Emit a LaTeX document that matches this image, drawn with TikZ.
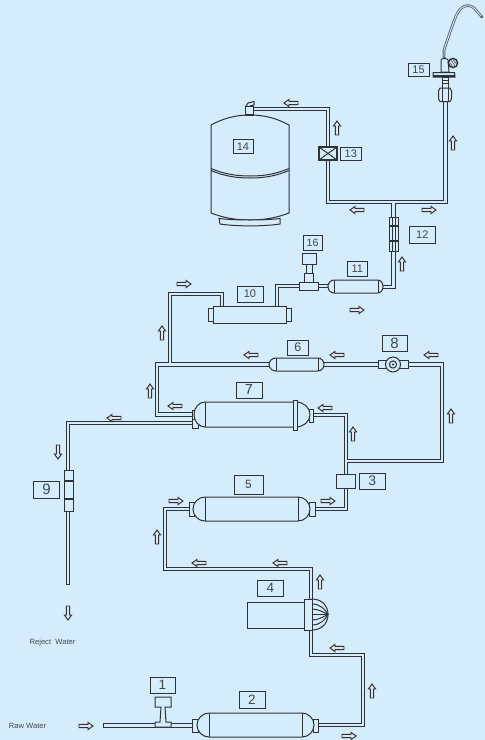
\documentclass[tikz,border=0pt]{standalone}
\usepackage{fontspec}
\setmainfont{Liberation Sans}
\definecolor{bgc}{HTML}{D4ECFB}
\definecolor{ink}{HTML}{2E3236}
\definecolor{txt}{HTML}{41474C}
\tikzset{
  part/.style={draw=ink,line width=1pt,fill=bgc},
  thin part/.style={draw=ink,line width=1pt},
  tag/.style={draw=ink,line width=0.95pt,fill=bgc,inner sep=0pt,text=txt},
  caption/.style={inner sep=0pt,text=txt,font=\fontsize{7.6}{9}\selectfont},
  flow/.pic={\draw[draw=ink,line width=0.95pt,fill=bgc!60!gray!40!white]
    (-7,-1.7)--(2,-1.7)--(2,-3.6)--(7,0)--(2,3.6)--(2,1.7)--(-7,1.7)--cycle;},
}
% tag: name, x1, y1, x2, y2, font size, text
\newcommand{\tagbox}[7]{\pgfmathsetmacro{\tw}{#4-#2}\pgfmathsetmacro{\th}{#5-#3}%
  \node[tag,minimum width=\tw pt,minimum height=\th pt,font=\fontsize{#6}{#6}\selectfont] (#1) at ({(#2+#4)/2},{(#3+#5)/2}) {#7};}
% vessel: left, line1, line2, right, top, bottom
\newcommand{\vessel}[6]{\pgfmathsetmacro{\vm}{(#5+#6)/2}%
  \pgfmathsetmacro{\vk}{0.55*(#6-#5)/2}%
  \pgfmathsetmacro{\vrc}{#3+0.55*(#4-#3)}\pgfmathsetmacro{\vlc}{#2-0.55*(#2-#1)}%
  \draw[part] (#2,#5) -- (#3,#5) .. controls (\vrc,#5) and (#4,\vm-\vk) .. (#4,\vm)
    .. controls (#4,\vm+\vk) and (\vrc,#6) .. (#3,#6) -- (#2,#6)
    .. controls (\vlc,#6) and (#1,\vm+\vk) .. (#1,\vm)
    .. controls (#1,\vm-\vk) and (\vlc,#5) .. (#2,#5) -- cycle;
  \draw[thin part] (#2,#5) -- (#2,#6) (#3,#5) -- (#3,#6);}
\newcommand{\pipes}[2]{%
 \draw[draw=#1,line width=#2]
  (p14) -- (b1) -- (p13t) (p13b) -- (b2) -- (b3) -- (p15)
  (j12) -- (p12t) (p12b) -- (b4) -- (p11r)
  (p11l) -- (pTr) (pTl) -- (b5) -- (p10r)
  (p10l) -- (b6) -- (b7) -- (j6)
  (p6l) -- (b8) -- (b9) -- (p7l)
  (p6r) -- (p8l) (p8r) -- (b10) -- (b11) -- (j3)
  (p3t) -- (b12) -- (p7r)
  (p3b) -- (b13) -- (p5r)
  (p5l) -- (b14) -- (b15) -- (b16) -- (p4t)
  (p4b) -- (b17) -- (b18) -- (b19) -- (p2r)
  (rawin) -- (p2l)
  (p7rj) -- (b20) -- (p9t) (p9b) -- (rejout);}
\begin{document}
\begin{tikzpicture}[x=1pt,y=-1pt,line join=miter]
\useasboundingbox[fill=bgc] (0,0) rectangle (485,740);
% ports and bends
\coordinate (p14) at (252,109); \coordinate (b1) at (328,109);
\coordinate (p13t) at (328,147); \coordinate (p13b) at (328,160);
\coordinate (b2) at (328,202); \coordinate (b3) at (445.5,202); \coordinate (p15) at (445.5,100);
\coordinate (j12) at (393.7,202); \coordinate (p12t) at (393.7,217); \coordinate (p12b) at (393.7,251);
\coordinate (b4) at (393.7,287); \coordinate (p11r) at (383,287);
\coordinate (p11l) at (328,286); \coordinate (pTr) at (318,286); \coordinate (pTl) at (299,286);
\coordinate (b5) at (277,286); \coordinate (p10r) at (277,306);
\coordinate (p10l) at (222,306); \coordinate (b6) at (222,294); \coordinate (b7) at (170,294); \coordinate (j6) at (170,364.5);
\coordinate (p6l) at (269,364.5); \coordinate (b8) at (157,364.5); \coordinate (b9) at (157,414.5); \coordinate (p7l) at (193,414.5);
\coordinate (p6r) at (324,364.5); \coordinate (p8l) at (378,364.5); \coordinate (p8r) at (408,364.5);
\coordinate (b10) at (442,364.5); \coordinate (b11) at (442,461); \coordinate (j3) at (346,461);
\coordinate (p3t) at (346,474); \coordinate (b12) at (346,415); \coordinate (p7r) at (313,415);
\coordinate (p3b) at (346,488); \coordinate (b13) at (346,509); \coordinate (p5r) at (315,509);
\coordinate (p5l) at (189,509); \coordinate (b14) at (165,509); \coordinate (b15) at (165,569); \coordinate (b16) at (311,569); \coordinate (p4t) at (311,599);
\coordinate (p4b) at (311,630); \coordinate (b17) at (311,655); \coordinate (b18) at (363,655); \coordinate (b19) at (363,725); \coordinate (p2r) at (318,725);
\coordinate (rawin) at (103,725.5); \coordinate (p2l) at (192,725.5);
\coordinate (p7rj) at (193,423); \coordinate (b20) at (68,423); \coordinate (p9t) at (68,470); \coordinate (p9b) at (68,511); \coordinate (rejout) at (68,584);
% pipes: dark outline, then light bore
\pipes{ink}{4.8pt}
\pipes{bgc}{2.8pt}
\draw[thin part] (65.6,584) -- (70.4,584);
\draw[thin part] (103,723.1) -- (103,727.9);
% tank 14
\draw[part] (211,125) .. controls (224,118) and (236,115) .. (250,115) .. controls (264,115) and (276,118) .. (289,125)
  -- (289,213) .. controls (276,218) and (264,220) .. (250,220) .. controls (236,220) and (224,218) .. (211,213) -- cycle;
\draw[thin part] (211,168.5) .. controls (224,174) and (236,176) .. (250,176) .. controls (264,176) and (276,174) .. (289,168.5);
\draw[thin part] (211,170.5) .. controls (224,176) and (236,178) .. (250,178) .. controls (264,178) and (276,176) .. (289,170.5);
\draw[part] (219,218.5) -- (220,224) .. controls (236,226.5) and (264,226.5) .. (280,224) -- (280,218.5) .. controls (264,220.5) and (236,220.5) .. (219,218.5) -- cycle;
\draw[part] (245,106.5) rectangle (253.5,115);
\fill[ink] (245,113.5) rectangle (253.5,115);
\draw[thin part] (246,106) -- (248,103) -- (254,101.5) -- (254,105) -- (250,106);
% 13
\draw[part,line width=1.3pt] (319,147) rectangle (337,160);
\draw[thin part] (319,147) -- (337,160) (319,160) -- (337,147);
% 12
\draw[part] (389,217) rectangle (398.5,251);
\draw[draw=ink,line width=1.7pt] (389,226) -- (398.5,226) (389,241) -- (398.5,241);
\draw[thin part] (392,217) -- (392,251) (395.5,217) -- (395.5,251);
% 9
\draw[part] (64,470) rectangle (73,511);
\draw[draw=ink,line width=1.7pt] (64,481) -- (73,481) (64,499) -- (73,499);
% 11, T, 16
\vessel{328}{334}{378}{383}{280}{293}
\draw[part] (299,282) rectangle (318,290);
\draw[part] (304,273) rectangle (313,282);
\draw[part] (306,264) rectangle (312,273);
\draw[part] (302.5,253) rectangle (316,264);
% 10
\draw[part] (208,308) rectangle (213,321);
\draw[part] (286,308) rectangle (291,321);
\draw[part] (213,306) rectangle (286,323);
% 6
\vessel{269}{276}{318}{324}{358}{371}
% 8
\draw[part] (378,360) rectangle (408,368);
\draw[part] (393,364.5) circle (7.5);
\draw[part] (393,364.5) circle (3.6);
\fill[ink] (393,364.5) circle (1.1);
% 7
\draw[part] (192,410) rectangle (196,419);
\draw[part] (192,419) rectangle (198,428);
\draw[part] (309,409) rectangle (313.5,422);
\vessel{194}{205}{296}{310}{402}{427}
\draw[part] (293,400) rectangle (297,430);
% 5
\draw[part] (189,502) rectangle (194,516);
\draw[part] (309,502) rectangle (315,516);
\vessel{193}{205}{298}{310}{497}{521}
% 3
\draw[part] (336,474) rectangle (355,488);
% 4
\draw[part] (247,602) rectangle (304,628);
\draw[part] (312,599) .. controls (322,599) and (328,606) .. (328,614.5) .. controls (328,623) and (322,630) .. (312,630) -- cycle;
\draw[thin part] (312,604) .. controls (320,604) and (325,609) .. (328,614.5) .. controls (325,620) and (320,625) .. (312,625);
\draw[thin part] (312,609) .. controls (318,609) and (323,612) .. (328,614.5) .. controls (323,617) and (318,620) .. (312,620);
\draw[thin part] (312,614.5) -- (328,614.5);
\draw[part] (304,599) rectangle (312,630);
% 2
\draw[part] (192,719) rectangle (198,732);
\draw[part] (313,719) rectangle (318.5,732);
\vessel{197}{209}{302}{314}{713}{737}
% 1
\draw[part] (155,727) -- (155,722) -- (160,722) -- (161,707) -- (155,707) -- (155,697) -- (171,697) -- (171,707) -- (165,707) -- (166,722) -- (171,722) -- (171,727) -- cycle;
% faucet 15
\draw[draw=ink!75!bgc,line width=2.6pt,line cap=round] (444,58) -- (444,50) .. controls (448,38) and (452,26) .. (456,16) .. controls (460,6) and (468,3) .. (474,8) .. controls (477,11) and (479,14) .. (482,17);
\draw[draw=bgc,line width=0.9pt] (444,57) -- (444,50) .. controls (448,38) and (452,26) .. (456,16) .. controls (460,6) and (468,3) .. (474,8) .. controls (477,11) and (479,14) .. (481,16);
\draw[part] (441,60) .. controls (441,58) and (448,58) .. (448,60) -- (449,72) -- (441,72) -- cycle;
\draw[part,line width=1.4pt] (453,63) circle (4.6);
\draw[draw=ink!70!bgc,line width=0.8pt] (451,60) -- (455,66) (450,63) -- (453,67) (453,59.5) -- (456.5,64);
\draw[part] (433,72.5) -- (454.5,72.5) -- (455,77) -- (433,77) -- cycle;
\fill[ink] (433,75) rectangle (455,77);
\draw[part] (442,77) rectangle (448.5,88);
\draw[thin part] (442,80) -- (448.5,80) (442,83) -- (448.5,83);
\draw[part] (440,88) -- (450,88) -- (451.5,91) -- (451.5,99) -- (450,101.5) -- (440,101.5) -- (438.5,99) -- (438.5,91) -- cycle;
\draw[thin part] (442,88) -- (442,101.5) (448,88) -- (448,101.5);
% labels
\tagbox{t1}{150}{677}{175}{693}{13.5}{1}
\tagbox{t2}{239}{691}{265}{708}{13.5}{2}
\tagbox{t3}{359.5}{473}{385}{489}{14}{3}
\tagbox{t4}{257.5}{580}{283.5}{596}{13.5}{4}
\tagbox{t5}{234}{475}{263}{494}{12}{5}
\tagbox{t6}{287.5}{340}{308}{355}{12.5}{6}
\tagbox{t7}{236}{382}{262}{398}{14.5}{7}
\tagbox{t8}{382}{335}{407}{351}{15}{8}
\tagbox{t9}{33.5}{481}{59.5}{498}{15}{9}
\tagbox{t10}{237}{286}{263}{302}{11}{10}
\tagbox{t11}{347}{261}{367.5}{276}{11}{11}
\tagbox{t12}{409.5}{226}{435}{243}{11}{12}
\tagbox{t13}{340.5}{147}{361}{160.5}{11}{13}
\tagbox{t14}{233}{139.5}{253}{153}{11}{14}
\tagbox{t15}{408}{63}{429}{76.5}{11}{15}
\tagbox{t16}{303}{235}{322}{250}{10.5}{16}
\node[caption] (raw) at (27.5,726) {Raw Water};
\node[caption] (rej) at (52.5,643) {Reject\ \ Water};
% flow arrows
\foreach \x/\y in {429/210,357/310,184/284,176/501,328/501,349/736,86/726}
  \pic at (\x,\y) {flow};
\foreach \x/\y in {291/103,357/210,251/355,337/355,431/355,175/406,325/408,199/563,280/563,337/648,114/418}
  \pic[rotate=180] at (\x,\y) {flow};
\foreach \x/\y in {337/128,453/143,402/264,162/333,451/416,150/391,353/434,157/537,320/582,372/691}
  \pic[rotate=90] at (\x,\y) {flow};
\foreach \x/\y in {68/613,58/452}
  \pic[rotate=-90] at (\x,\y) {flow};
\end{tikzpicture}
\end{document}
